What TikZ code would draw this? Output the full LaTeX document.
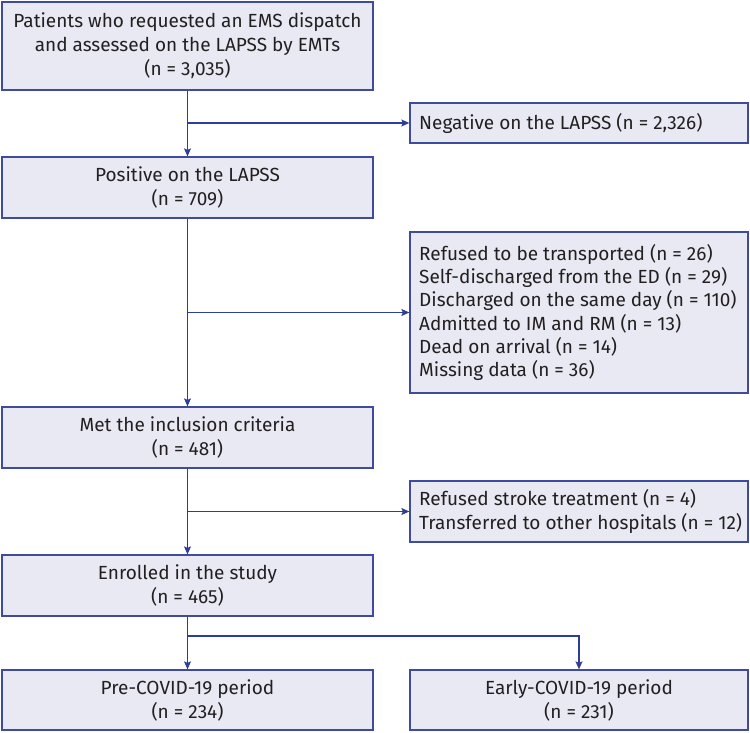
\documentclass[tikz,border=0pt]{standalone}
\usepackage{fontspec}
\setmainfont{Fira Sans}
\usetikzlibrary{arrows.meta}
\definecolor{boxfill}{HTML}{E8E9F3}
\definecolor{boxline}{HTML}{3F4C9E}
\definecolor{conn}{HTML}{2E3D98}
\definecolor{txt}{HTML}{231F20}
\tikzset{
  fbox/.style={draw=boxline, fill=boxfill, line width=1.3pt, inner sep=0pt, text=txt,
    font=\fontsize{19pt}{24pt}\selectfont},
  cbox/.style={fbox, align=center},
  ltext/.style={text=txt, font=\fontsize{19pt}{#1}\selectfont, align=left, anchor=west, inner sep=0pt},
  conline/.style={draw=conn, line width=1.2pt},
  arr/.style={conline, -{Stealth[length=8pt,width=7pt,inset=1.5pt]}}
}
\begin{document}
\begin{tikzpicture}[x=1pt,y=-1pt]
\useasboundingbox (0,0) rectangle (750,733);
% boxes: center, width, height
\node[cbox, minimum width=371pt, minimum height=88pt] (b1) at (187.5,46)
  {Patients who requested an EMS dispatch\\and assessed on the LAPSS by EMTs\\(n = 3,035)};
\node[fbox, minimum width=338pt, minimum height=40pt] (neg) at (579,123) {};
\node[ltext=24pt] (negt) at (419,123)
  {Negative on the LAPSS (n = 2,326)};
\node[cbox, minimum width=371pt, minimum height=61pt] (pos) at (187.5,187.5)
  {Positive on the LAPSS\\(n = 709)};
\node[fbox, minimum width=338pt, minimum height=161pt] (exc) at (579,312.5) {};
\node[ltext=23.3pt] (exct) at (419,312.5)
  {Refused to be transported (n = 26)\\Self-discharged from the ED (n = 29)\\Discharged on the same day (n = 110)\\Admitted to IM and RM (n = 13)\\Dead on arrival (n = 14)\\Missing data (n = 36)};
\node[cbox, minimum width=371pt, minimum height=61pt] (met) at (187.5,437.5)
  {Met the inclusion criteria\\(n = 481)};
\node[fbox, minimum width=338pt, minimum height=61pt] (ref) at (579,511.5) {};
\node[ltext=24pt] (reft) at (419,511.5)
  {Refused stroke treatment (n = 4)\\Transferred to other hospitals (n = 12)};
\node[cbox, minimum width=371pt, minimum height=61pt] (enr) at (187.5,585.5)
  {Enrolled in the study\\(n = 465)};
\node[cbox, minimum width=371pt, minimum height=60pt] (pre) at (187.5,700)
  {Pre-COVID-19 period\\(n = 234)};
\node[cbox, minimum width=338pt, minimum height=60pt] (early) at (579,700)
  {Early-COVID-19 period\\(n = 231)};
% junctions
\coordinate (j1) at (187.5,123);
\coordinate (j2) at (187.5,312.5);
\coordinate (j3) at (187.5,511.5);
\coordinate (j4) at (187.5,636);
% connectors
\draw[arr] (b1.south) -- (pos.north);
\draw[arr] (j1) -- (neg.west);
\draw[arr] (pos.south) -- (met.north);
\draw[arr] (j2) -- (exc.west);
\draw[arr] (met.south) -- (enr.north);
\draw[arr] (j3) -- (ref.west);
\draw[conline] (enr.south) -- (j4);
\draw[arr] (j4) -- (pre.north);
\draw[arr] (j4) -| (early.north);
\end{tikzpicture}
\end{document}
